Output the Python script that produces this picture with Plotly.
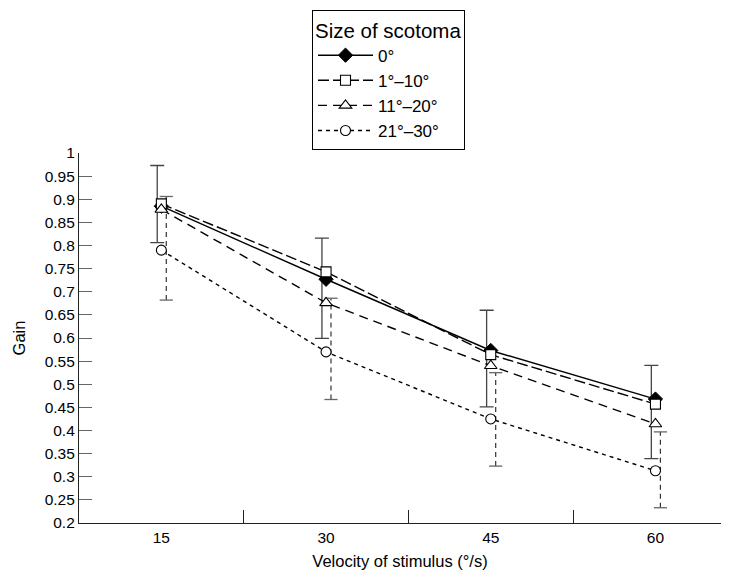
import plotly.graph_objects as go

# ---- data ----
velocity = ["15", "30", "45", "60"]
gain_0 = [0.885, 0.727, 0.573, 0.468]
gain_1_10 = [0.890, 0.743, 0.564, 0.457]
gain_11_20 = [0.878, 0.676, 0.540, 0.414]
gain_21_30 = [0.790, 0.570, 0.425, 0.313]

# error bar ends
err0_upper = [0.973, 0.816, 0.660, 0.541]
err0_lower = [0.806, 0.599, 0.451, 0.339]
err21_upper = [0.906, 0.686, 0.525, 0.397]
err21_lower = [0.682, 0.467, 0.323, 0.233]

series_names = ["0°", "1°–10°", "11°–20°", "21°–30°"]

# ---- styling ----
FONT = "Liberation Sans, Arial, sans-serif"
pos = list(range(len(velocity)))
solid_off = -0.025
dash_off = 0.03
cap_half = 0.04

fig = go.Figure()

# solid error bars (0°)
fig.add_trace(go.Scatter(
    x=[p + solid_off for p in pos], y=gain_0, mode="markers",
    marker=dict(size=1, opacity=0), showlegend=False, hoverinfo="skip",
    error_y=dict(type="data", symmetric=False,
                 array=[u - g for u, g in zip(err0_upper, gain_0)],
                 arrayminus=[g - l for g, l in zip(gain_0, err0_lower)],
                 color="#444444", thickness=1.3, width=7),
))

# dashed error bars (21°–30°)
vx, vy, cx, cy = [], [], [], []
for p, lo, hi in zip(pos, err21_lower, err21_upper):
    xx = p + dash_off
    vx += [xx, xx, None]
    vy += [lo, hi, None]
    for yy in (lo, hi):
        cx += [xx - cap_half, xx + cap_half, None]
        cy += [yy, yy, None]
fig.add_trace(go.Scatter(x=vx, y=vy, mode="lines", showlegend=False, hoverinfo="skip",
                         line=dict(color="#333333", width=1.2, dash="5px,4px")))
fig.add_trace(go.Scatter(x=cx, y=cy, mode="lines", showlegend=False, hoverinfo="skip",
                         line=dict(color="#666666", width=1.3)))

styles = [
    (gain_0, dict(symbol="diamond", size=11, color="black", line=dict(color="black", width=1)), "solid"),
    (gain_1_10, dict(symbol="square", size=10, color="white", line=dict(color="black", width=1.1)), "11px,4px"),
    (gain_11_20, dict(symbol="triangle-up", size=11, color="white", line=dict(color="black", width=1.1)), "9px,6px"),
    (gain_21_30, dict(symbol="circle", size=10, color="white", line=dict(color="black", width=1.1)), "4px,4px"),
]
for name, (vals, mk, dash) in zip(series_names, styles):
    fig.add_trace(go.Scatter(
        x=pos, y=vals, name=name, mode="lines+markers",
        line=dict(color="black", width=1.4, dash=dash),
        marker=mk,
    ))

# page body adds an 8px margin, so the figure is sized to fit inside the window
fig.update_layout(
    width=714, height=562,
    margin=dict(l=71, r=1, t=145, b=47, autoexpand=False),
    paper_bgcolor="white", plot_bgcolor="white",
    font=dict(family=FONT, size=15.5, color="black"),
    showlegend=True,
    legend=dict(
        x=(312 - 79) / 642, y=(523 - 10) / 370, xanchor="left", yanchor="top",
        bordercolor="black", borderwidth=1, bgcolor="white",
        font=dict(size=17), title=dict(text="Size of scotoma", font=dict(size=20.5)),
        itemwidth=55, tracegroupgap=0,
    ),
    xaxis=dict(
        range=[-0.5, 3.398], tickmode="array", tickvals=pos, ticktext=velocity,
        ticks="", showgrid=False, zeroline=False, automargin=False,
        showline=True, linecolor="#222222", linewidth=1.2,
        tickfont=dict(size=15.5),
        title=dict(text="Velocity of stimulus (°/s)", font=dict(size=16.5), standoff=15),
        minor=dict(tickmode="array", tickvals=[0.5, 1.5, 2.5], ticks="inside",
                   ticklen=13, tickcolor="#222222", tickwidth=1.2, showgrid=False),
    ),
    yaxis=dict(
        range=[0.2, 1.0], tickmode="linear", tick0=0.2, dtick=0.05,
        ticks="inside", ticklen=13, tickcolor="#666666", tickwidth=1.2,
        showgrid=False, zeroline=False, automargin=False,
        showline=True, linecolor="#222222", linewidth=1.2,
        tickfont=dict(size=15.5),
        title=dict(text="Gain", font=dict(size=16.5), standoff=14),
    ),
)

fig.write_html("out.html")
